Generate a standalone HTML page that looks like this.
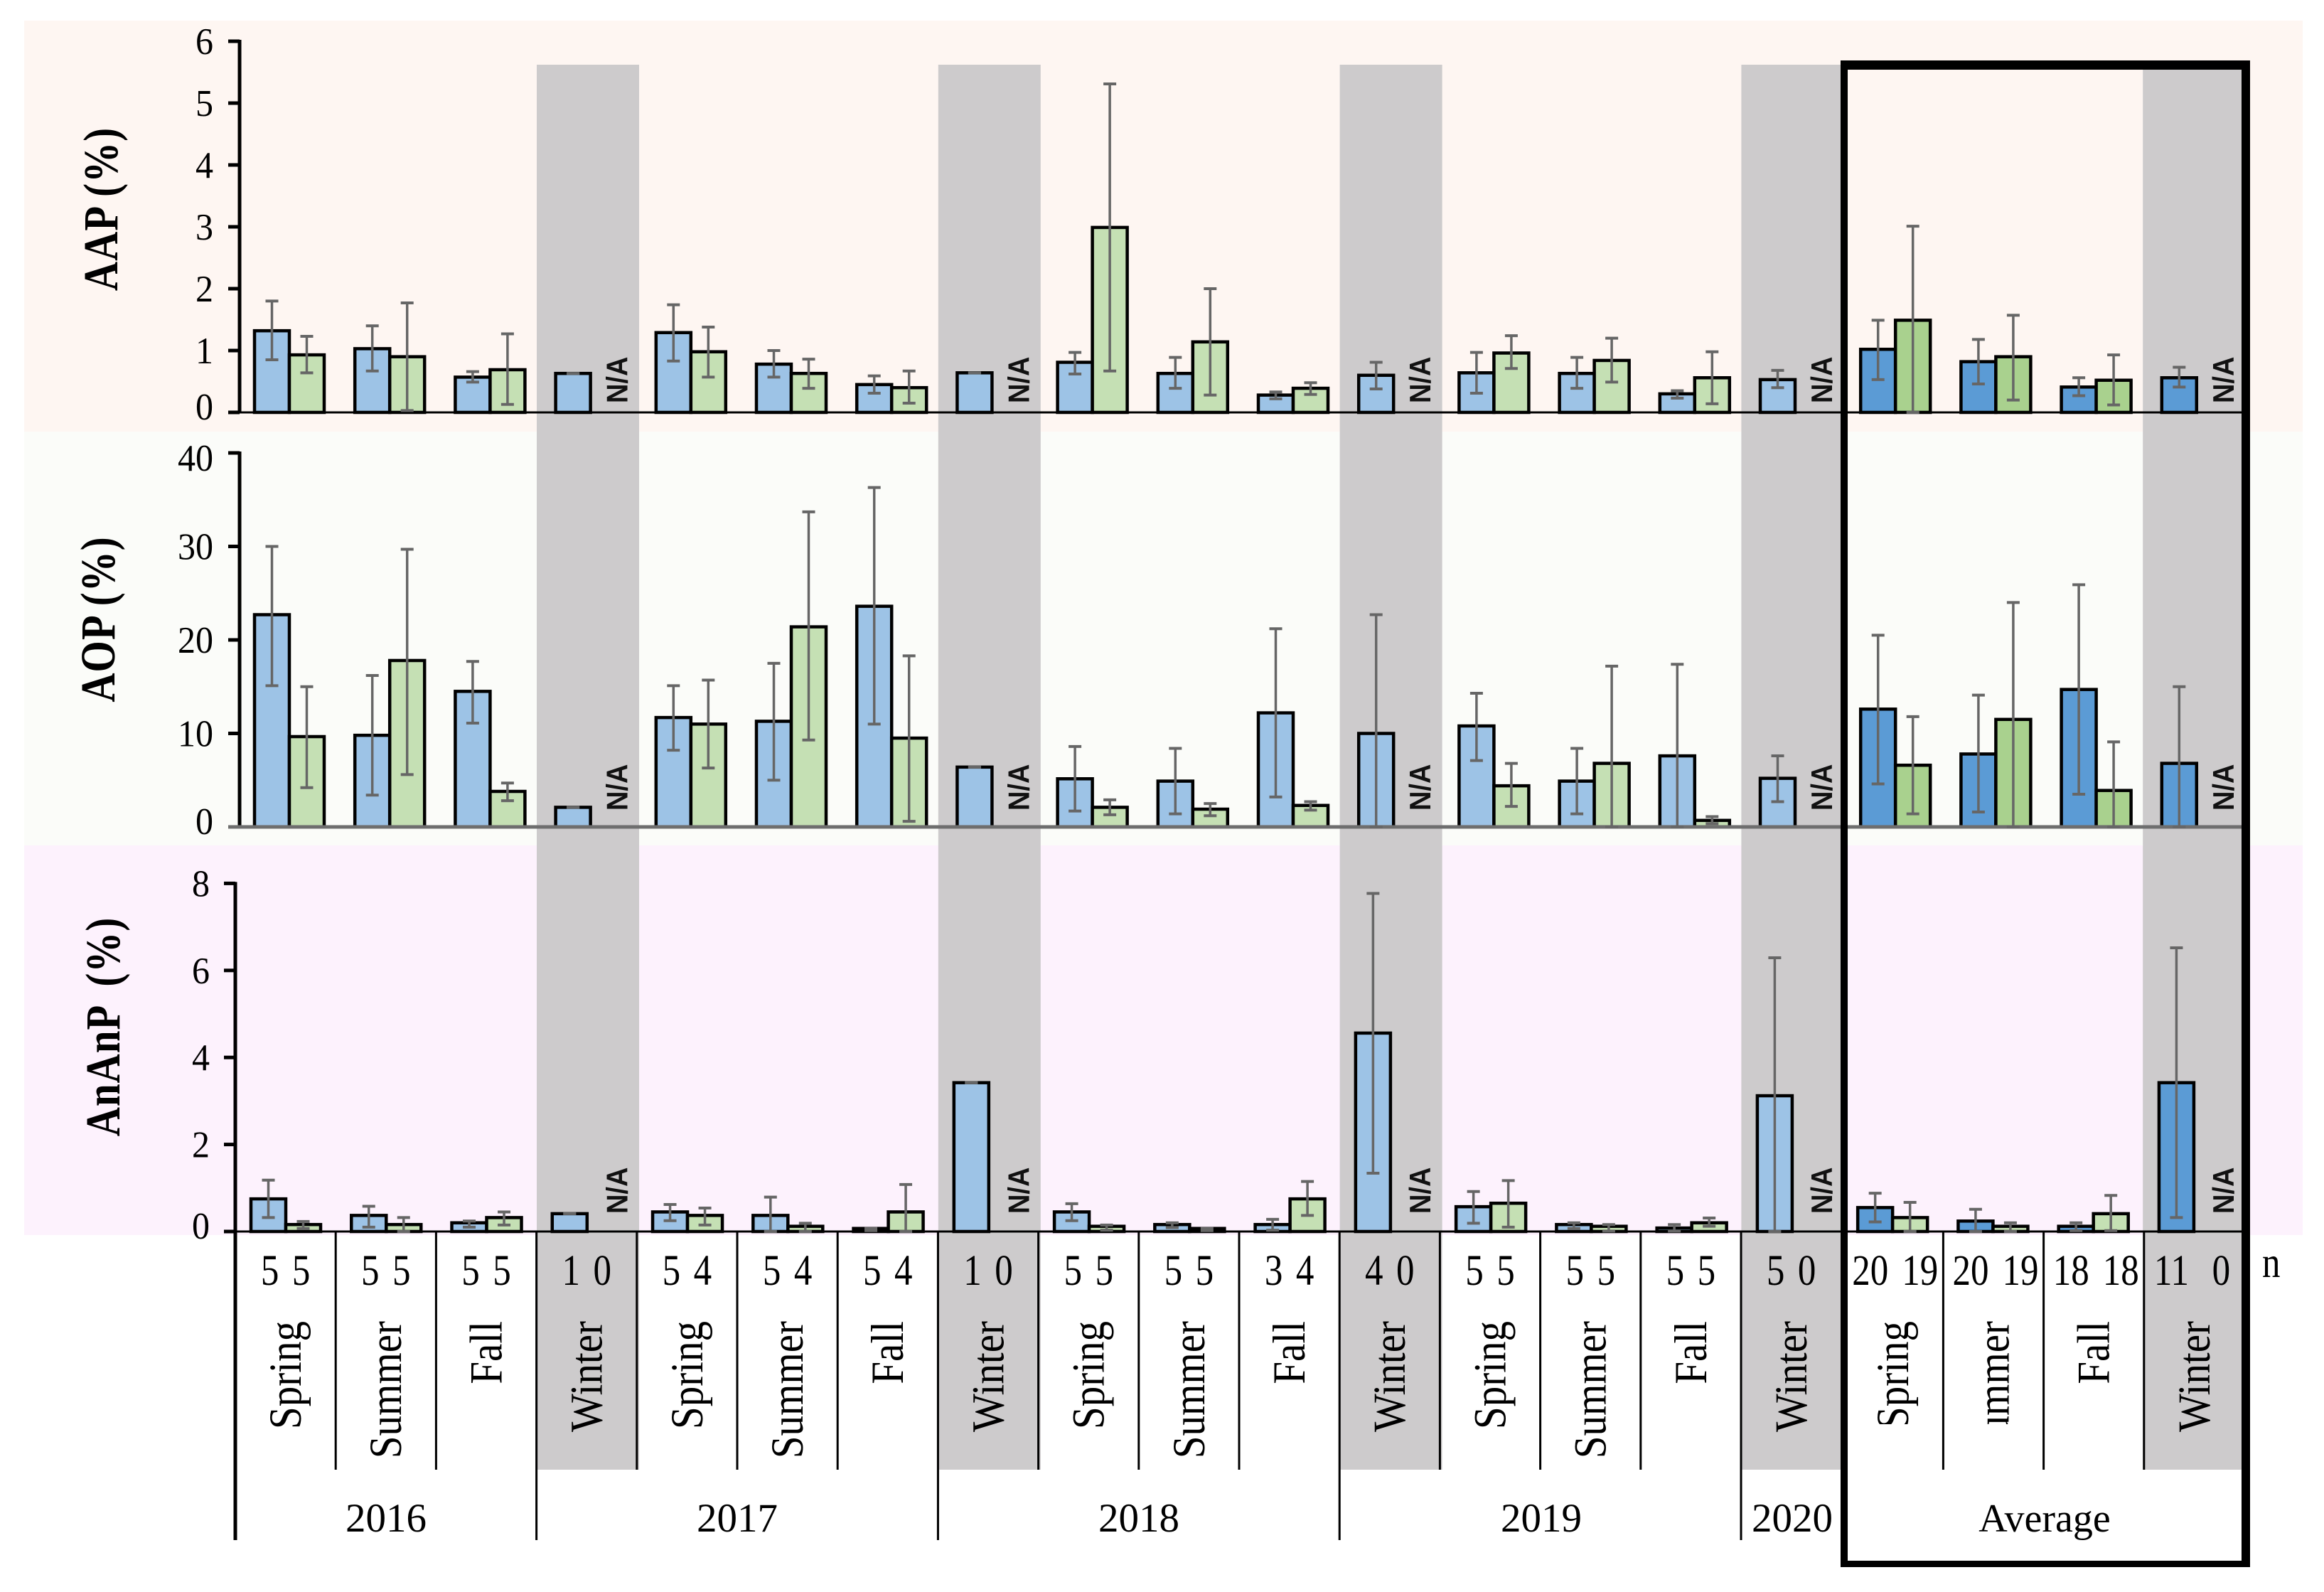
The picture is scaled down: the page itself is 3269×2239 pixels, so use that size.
<!DOCTYPE html>
<html lang="en">
<head>
<meta charset="utf-8">
<title>AAP, AOP and AnAnP seasonal bar charts</title>
<style>
html,body{margin:0;padding:0;background:#fff}
svg{display:block}
text{font-family:"Liberation Serif",serif;fill:#000}
.na{font-family:"Liberation Sans",sans-serif;font-weight:700;font-size:38px;fill:#111}
.title{font-weight:700;font-size:57px;letter-spacing:1px}
.year{font-size:57px;text-anchor:middle}
</style>
</head>
<body>
<svg id="chart" xmlns="http://www.w3.org/2000/svg" width="3269" height="2239" viewBox="0 0 3269 2239">
  <defs>
    <clipPath id="avg-label-clip"><rect x="2590" y="1800" width="290" height="203"></rect></clipPath>
  </defs>
  <rect x="0" y="0" width="3269" height="2239" fill="#ffffff"></rect>
  <rect x="34" y="29" width="3205" height="578" fill="#fef6f2"></rect>
  <rect x="34" y="607" width="3205" height="582" fill="#fbfcf9"></rect>
  <rect x="34" y="1189" width="3205" height="548" fill="#fdf2fd"></rect>
  <g id="bands"></g>
  <g id="table"></g>
  <g id="panels"></g>
  <g id="labels"></g>

  <text class="title" text-anchor="middle" transform="translate(165,294) rotate(-90) scale(1,1.2)">AAP (%)</text>
  <text class="title" text-anchor="middle" transform="translate(161,871) rotate(-90) scale(1,1.2)">AOP (%)</text>
  <text class="title" text-anchor="middle" word-spacing="13" transform="translate(168,1444) rotate(-90) scale(1,1.2)">AnAnP (%)</text>

  <text class="year" x="543" y="2154">2016</text>
  <text class="year" x="1037" y="2154">2017</text>
  <text class="year" x="1602" y="2154">2018</text>
  <text class="year" x="2168" y="2154">2019</text>
  <text class="year" x="2521" y="2154">2020</text>
  <text class="year" style="font-size:56px" x="2876" y="2154">Average</text>
  <text style="font-size:51px" transform="translate(3182,1796) scale(1,1.2)">n</text>

  <path fill="#000" fill-rule="evenodd" d="M2589 85H3165V2204H2589ZM2599 98V2195H3153V98Z"></path>
</svg>

<script>
// ---- categories ----
const seasons = ["Spring","Summer","Fall","Winter","Spring","Summer","Fall","Winter","Spring","Summer","Fall","Winter","Spring","Summer","Fall","Winter","Spring","Summer","Fall","Winter"];
const nBlue  = [5,5,5,1,5,5,5,1,5,5,3,4,5,5,5,5,20,20,18,11];
const nGreen = [5,5,5,0,4,4,4,0,5,5,4,0,5,5,5,0,19,19,18,0];

// ---- tick labels ----
const aapTicks = [0,1,2,3,4,5,6];
const aopTicks = [0,10,20,30,40];
const ananpTicks = [0,2,4,6,8];

// ---- AAP values ----
const aapBlue    = [1.32,1.03,0.57,0.63,1.29,0.78,0.45,0.64,0.81,0.63,0.28,0.60,0.64,0.63,0.30,0.53,1.02,0.82,0.41,0.56];
const aapBlueHi  = [1.80,1.40,0.66,0.63,1.74,1.00,0.59,0.64,0.97,0.89,0.33,0.81,0.97,0.89,0.35,0.68,1.49,1.18,0.56,0.73];
const aapBlueLo  = [0.85,0.67,0.49,0.63,0.83,0.57,0.31,0.64,0.62,0.39,0.22,0.38,0.31,0.39,0.23,0.40,0.53,0.46,0.27,0.41];
const aapGreen   = [0.93,0.90,0.69,null,0.98,0.63,0.40,null,2.99,1.14,0.39,null,0.96,0.84,0.56,null,1.49,0.90,0.52,null];
const aapGreenHi = [1.23,1.77,1.27,null,1.38,0.86,0.67,null,5.31,2.00,0.48,null,1.24,1.20,0.98,null,3.01,1.57,0.93,null];
const aapGreenLo = [0.64,0.03,0.13,null,0.57,0.39,0.15,null,0.67,0.28,0.29,null,0.71,0.49,0.14,null,0.00,0.20,0.12,null];

// ---- AOP values ----
const aopBlue    = [22.7,9.8,14.5,2.1,11.7,11.3,23.6,6.4,5.15,4.9,12.2,10.0,10.8,4.9,7.6,5.2,12.6,7.8,14.7,6.8];
const aopBlueHi  = [30.0,16.2,17.7,2.1,15.1,17.5,36.3,6.4,8.6,8.4,21.2,22.7,14.3,8.4,17.4,7.6,20.5,14.1,25.9,15.0];
const aopBlueLo  = [15.1,3.4,11.1,2.1,8.2,5.0,11.0,6.4,1.7,1.4,3.2,0.0,7.1,1.4,0.0,2.7,4.6,1.6,3.5,0.0];
const aopGreen   = [9.66,17.8,3.8,null,11.0,21.4,9.5,null,2.1,1.9,2.3,null,4.4,6.8,0.7,null,6.6,11.5,3.9,null];
const aopGreenHi = [15.0,29.7,4.7,null,15.7,33.7,18.3,null,2.9,2.5,2.7,null,6.8,17.2,1.1,null,11.8,24.0,9.1,null];
const aopGreenLo = [4.2,5.6,2.8,null,6.3,9.3,0.6,null,1.3,1.2,1.8,null,2.2,0.0,0.35,null,1.4,0.0,0.0,null];

// ---- AnAnP values ----
const ananpBlue    = [0.75,0.37,0.20,0.41,0.45,0.37,0.07,3.42,0.45,0.16,0.16,4.56,0.57,0.16,0.08,3.12,0.55,0.24,0.12,3.42];
const ananpBlueHi  = [1.18,0.58,0.24,0.41,0.62,0.79,0.07,3.42,0.64,0.20,0.28,7.77,0.92,0.20,0.16,6.29,0.88,0.51,0.20,6.52];
const ananpBlueLo  = [0.32,0.10,0.10,0.41,0.25,0.00,0.02,3.42,0.25,0.09,0.03,1.34,0.19,0.07,0.01,0.00,0.22,0.00,0.02,0.32];
const ananpGreen   = [0.16,0.16,0.32,null,0.37,0.12,0.45,null,0.12,0.07,0.75,null,0.65,0.12,0.20,null,0.32,0.12,0.41,null];
const ananpGreenHi = [0.23,0.32,0.45,null,0.54,0.19,1.08,null,0.15,0.07,1.15,null,1.17,0.16,0.31,null,0.67,0.20,0.83,null];
const ananpGreenLo = [0.07,0.00,0.15,null,0.15,0.00,0.00,null,0.03,0.02,0.37,null,0.10,0.01,0.12,null,0.00,0.00,0.02,null];

const SVGNS = "http://www.w3.org/2000/svg";
function mk(tag, attrs, parent, txt) {
  const e = document.createElementNS(SVGNS, tag);
  for (const k in attrs) e.setAttribute(k, attrs[k]);
  if (txt !== undefined) e.textContent = txt;
  parent.appendChild(e);
  return e;
}

const bandsG = document.getElementById('bands');
const tableG = document.getElementById('table');
const panelsG = document.getElementById('panels');
const labelsG = document.getElementById('labels');

// column axis functions
const COL_W = 141.2;
function tableX(k) { return 331 + COL_W * k + (k >= 16 ? 2 : 0); }
function bandX(k) { return 755 + COL_W * (k - 3); }
function barX(panel, k) { return panel.barStart + panel.barStep * k; }

// winter bands
seasons.forEach(function (s, k) {
  if (s !== 'Winter') return;
  const el = mk('rect', { x: bandX(k), y: 91, width: 144, height: 1976, fill: '#cdcbcc' }, bandsG);
  
  
});

// table dividers
for (let k = 1; k <= 19; k++) {
  if (k === 16) continue;
  const isYear = (k === 3 || k === 7 || k === 11 || k === 15);
  const el = mk('line', { x1: tableX(k), x2: tableX(k), y1: 1732, y2: isYear ? 2166 : 2067, stroke: '#000', 'stroke-width': 3 }, tableG);
  
  
}

// category labels and sample counts
seasons.forEach(function (s, k) {
  const left = tableX(k);
  const wrap = mk('g', (k === 16 || k === 17) ? { 'clip-path': 'url(#avg-label-clip)' } : {}, labelsG);
  const lab = mk('text', { 'text-anchor': 'end', style: 'font-size:57px', transform: 'translate(' + (left + 92) + ',1858) rotate(-90) scale(1,1.14)' }, wrap, s);
  
  

  const avg = k >= 16;
  const off = avg ? 35 : 22;
  const mid = left + 70.6 + (avg ? 3 : 0);
  const c1 = mk('text', { 'text-anchor': 'middle', style: 'font-size:51px', transform: 'translate(' + (mid - off) + ',1807) scale(1,1.2)' }, labelsG, String(nBlue[k]));
  
  
  const c2 = mk('text', { 'text-anchor': 'middle', style: 'font-size:51px', transform: 'translate(' + (mid + off) + ',1807) scale(1,1.2)' }, labelsG, String(nGreen[k]));
  
  
});

// panels
const panels = [
  { name: 'aap', y0: 580, pxPerUnit: 87, ticks: aapTicks, axisX: 337, tickRight: 300, axisBottom: 580,
    barStart: 358, barStep: COL_W, naBase: 567, base: '#000', baseW: 3,
    blue: aapBlue, blueHi: aapBlueHi, blueLo: aapBlueLo, green: aapGreen, greenHi: aapGreenHi, greenLo: aapGreenLo, avgGreen: '#a9d18e' },
  { name: 'aop', y0: 1163, pxPerUnit: 13.15, ticks: aopTicks, axisX: 337, tickRight: 300, axisBottom: 1163,
    barStart: 358, barStep: COL_W, naBase: 1140, base: '#6e6e6e', baseW: 5,
    blue: aopBlue, blueHi: aopBlueHi, blueLo: aopBlueLo, green: aopGreen, greenHi: aopGreenHi, greenLo: aopGreenLo, avgGreen: '#a9d18e' },
  { name: 'ananp', y0: 1732, pxPerUnit: 61.2, ticks: ananpTicks, axisX: 331, tickRight: 295, axisBottom: 2166,
    barStart: 353, barStep: 141.26, naBase: 1707, base: '#000', baseW: 3,
    blue: ananpBlue, blueHi: ananpBlueHi, blueLo: ananpBlueLo, green: ananpGreen, greenHi: ananpGreenHi, greenLo: ananpGreenLo, avgGreen: '#c5e0b4' }
];

const BAR_W = 49;

function drawBar(g, panel, x, v, fill, nm) {
  const top = panel.y0 - v * panel.pxPerUnit;
  const el = mk('rect', { x: x, y: top, width: BAR_W, height: Math.max(panel.y0 - top, 1), fill: fill, stroke: '#000', 'stroke-width': 4.5 }, g);
  
  
}

function drawError(g, panel, cx, hi, lo) {
  const yHi = panel.y0 - hi * panel.pxPerUnit;
  const yLo = panel.y0 - lo * panel.pxPerUnit;
  const stem = mk('line', { x1: cx, x2: cx, y1: yHi, y2: yLo, stroke: '#666', 'stroke-width': 3.5 }, g);
  
  
  const capHi = mk('line', { x1: cx - 9, x2: cx + 9, y1: yHi, y2: yHi, stroke: '#666', 'stroke-width': 4 }, g);
  
  
  const capLo = mk('line', { x1: cx - 9, x2: cx + 9, y1: yLo, y2: yLo, stroke: '#666', 'stroke-width': 4 }, g);
  
  
}

panels.forEach(function (p) {
  const g = mk('g', {}, panelsG);
  
  

  // y axis
  const yMax = p.ticks[p.ticks.length - 1];
  const yTop = p.y0 - yMax * p.pxPerUnit;
  const axis = mk('line', { x1: p.axisX, x2: p.axisX, y1: yTop - 2, y2: p.axisBottom, stroke: '#000', 'stroke-width': 5 }, g);
  
  

  p.ticks.forEach(function (t) {
    const ty = p.y0 - t * p.pxPerUnit;
    const tick = mk('line', { x1: p.axisX - 16, x2: p.axisX, y1: ty, y2: ty, stroke: '#000', 'stroke-width': 5 }, g);
    
    
    const shift = t === 0 ? -8 : (t === 40 ? 7 : 0);
    const lab = mk('text', { 'text-anchor': 'end', style: 'font-size:50px', transform: 'translate(' + p.tickRight + ',' + (ty + 18 + shift) + ') scale(1,1.06)' }, g, String(t));
    
    
  });

  // bars
  seasons.forEach(function (s, k) {
    const x = barX(p, k);
    const avg = k >= 16;
    drawBar(g, p, x, p.blue[k], avg ? '#5b9bd5' : '#9dc3e6', p.name + '-bar-blue');
    if (p.green[k] !== null) {
      drawBar(g, p, x + BAR_W, p.green[k], avg ? p.avgGreen : '#c5e0b4', p.name + '-bar-green');
    }
  });

  // baseline
  const base = mk('line', { x1: p.axisX - 16, x2: 3153, y1: p.y0, y2: p.y0, stroke: p.base, 'stroke-width': p.baseW }, g);
  
  

  // error bars and N/A marks
  seasons.forEach(function (s, k) {
    const x = barX(p, k);
    drawError(g, p, x + BAR_W / 2, p.blueHi[k], p.blueLo[k]);
    if (p.green[k] !== null) {
      drawError(g, p, x + BAR_W * 1.5, p.greenHi[k], p.greenLo[k]);
    } else {
      const nx = 358 + COL_W * k + 101;
      const na = mk('text', { class: 'na', transform: 'translate(' + nx + ',' + p.naBase + ') rotate(-90) scale(1,1.1)' }, g, 'N/A');
      
      
    }
  });
});
</script>
</body>
</html>
